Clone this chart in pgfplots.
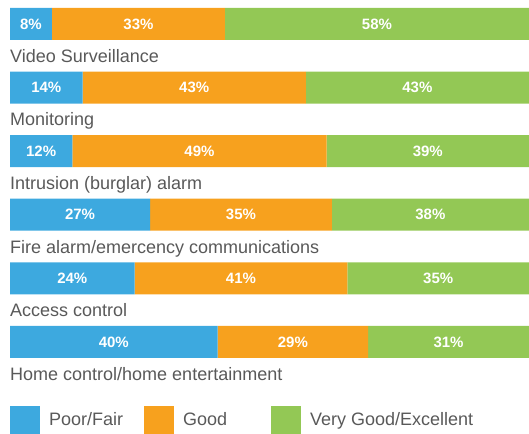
\documentclass[border=0pt]{standalone}
\usepackage{pgfplots}
\pgfplotsset{compat=1.18}
\usepackage{fontspec}
\setmainfont{Liberation Sans}
\definecolor{cblue}{HTML}{3DA9DF}
\definecolor{corange}{HTML}{F7A11E}
\definecolor{cgreen}{HTML}{93C855}
\definecolor{ctext}{HTML}{595959}
\newcommand{\lbl}{\fontsize{18bp}{21bp}\selectfont}
\pgfplotsset{
  base/.style={
    scale only axis, width=519bp, height=365.7bp,
    xmin=0, xmax=100, ymin=-0.25, ymax=5.5, y dir=reverse,
    hide axis, clip=false,
  }
}
\tikzset{cat/.style={anchor=base west, inner sep=0pt, yshift=-6.6bp, font=\lbl, text=ctext}}
\begin{document}
\begin{tikzpicture}
\path[use as bounding box] (-10bp,-60.3bp) rectangle (519bp,373.7bp);
\begin{axis}[base,
  xbar stacked, bar width=32bp,
  legend columns=3,
  legend image code/.code={\fill[#1,draw=none] (0bp,-14bp) rectangle (30bp,14bp);},
  legend style={at={(0,0)}, anchor=north west, yshift=-32bp, draw=none,
    inner sep=0pt, outer sep=0pt, fill=none,
    font=\lbl, text=ctext,
    nodes={inner sep=0pt, anchor=west},
    /tikz/every odd column/.append style={column sep=9bp}},
]
\addplot[fill=cblue, draw=none] coordinates {(8.08,0) (14,1) (12,2) (27,3) (24,4) (40,5)};
\addlegendentry{Poor/Fair\rule{21bp}{0pt}}
\addplot[fill=corange, draw=none] coordinates {(33.33,0) (43,1) (49,2) (35,3) (41,4) (29,5)};
\addlegendentry{Good\rule{44bp}{0pt}}
\addplot[fill=cgreen, draw=none] coordinates {(58.59,0) (43,1) (39,2) (38,3) (35,4) (31,5)};
\addlegendentry{Very Good/Excellent}
\node[cat] at (axis cs:0,0.5) {Video Surveillance};
\node[cat] at (axis cs:0,1.5) {Monitoring};
\node[cat] at (axis cs:0,2.5) {Intrusion (burglar) alarm};
\node[cat] at (axis cs:0,3.5) {Fire alarm/emercency communications};
\node[cat] at (axis cs:0,4.5) {Access control};
\node[cat] at (axis cs:0,5.5) {Home control/home entertainment};
\end{axis}
\begin{axis}[base]
\addplot[draw=none, mark=none, nodes near coords, point meta=explicit symbolic,
  nodes near coords style={anchor=center, inner sep=0pt, text=white, font=\fontsize{15bp}{18bp}\selectfont\bfseries}]
coordinates {
(4.04,0) [8\%] (24.75,0) [33\%] (70.71,0) [58\%]
(7,1) [14\%] (35.5,1) [43\%] (78.5,1) [43\%]
(6,2) [12\%] (36.5,2) [49\%] (80.5,2) [39\%]
(13.5,3) [27\%] (44.5,3) [35\%] (81,3) [38\%]
(12,4) [24\%] (44.5,4) [41\%] (82.5,4) [35\%]
(20,5) [40\%] (54.5,5) [29\%] (84.5,5) [31\%]
};
\end{axis}
\end{tikzpicture}
\end{document}
